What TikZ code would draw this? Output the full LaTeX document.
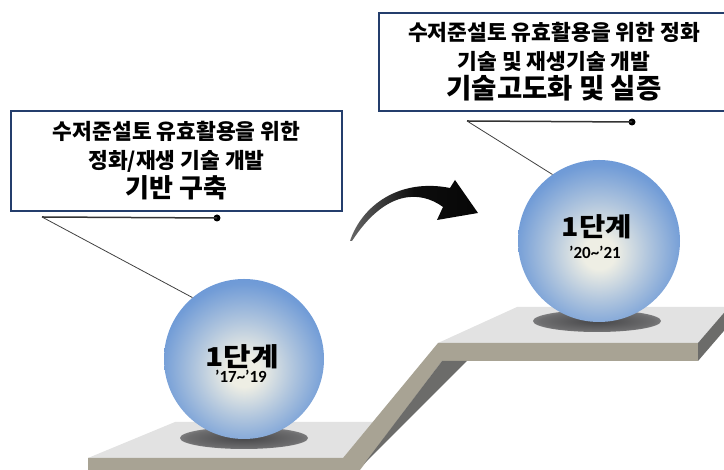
\documentclass[tikz,border=0pt]{standalone}
\usepackage{fontspec}
\setmainfont{Noto Sans CJK KR}
\newfontfamily\yearfont{Carlito}
\usetikzlibrary{positioning}

\definecolor{boxnavy}{RGB}{36,62,108}
\definecolor{ballblue}{RGB}{86,138,212}
\definecolor{ballhi}{RGB}{238,238,228}
\definecolor{stepTop}{RGB}{226,226,226}
\definecolor{stepFront}{RGB}{168,163,148}
\definecolor{stepDark}{RGB}{108,108,106}
\definecolor{shadowgray}{RGB}{70,70,72}

\pgfdeclareradialshading{ballshade}{\pgfpoint{0bp}{-4bp}}{%
  color(0bp)=(ballhi); color(5bp)=(ballhi);
  color(15bp)=(ballblue!40!ballhi); color(26bp)=(ballblue!82!ballhi);
  color(38bp)=(ballblue); color(50bp)=(ballblue!92!black); color(70bp)=(ballblue!92!black)}
\pgfdeclareradialshading{ballshadow}{\pgfpoint{0bp}{0bp}}{%
  color(0bp)=(shadowgray); color(22bp)=(shadowgray!75!stepTop);
  color(50bp)=(stepTop); color(70bp)=(stepTop)}
\pgfdeclarehorizontalshading{arrowfade}{100bp}{%
  color(0bp)=(black!15); color(25bp)=(black!60);
  color(50bp)=(black!95); color(100bp)=(black)}

\tikzstyle{stagebox}   = [rectangle, draw=boxnavy, line width=2.6pt, fill=white,
    align=center, font=\bfseries\fontsize{21.5}{29}\selectfont, inner sep=0pt]
\tikzstyle{ball}       = [circle, shading=ballshade, inner sep=0pt, minimum size=160pt]
\tikzstyle{dot}        = [circle, fill=black, inner sep=0pt, minimum size=7pt]
\tikzstyle{callout}    = [draw=black!80, line width=1.5pt]
\tikzstyle{leader}     = [draw=black!75, line width=0.8pt]
\tikzstyle{stagelabel} = [font=\bfseries\fontsize{26}{30}\selectfont, inner sep=0pt]
\tikzstyle{yearlabel}  = [font=\yearfont\bfseries\fontsize{17}{20}\selectfont, inner sep=0pt]

\begin{document}
\begin{tikzpicture}[x=1pt, y=1pt]
    \useasboundingbox (0,0) rectangle (724,470);
    \clip (0,0) rectangle (724,470);

    % Steps
    \fill [stepTop]   (88,12) -- (175,48) -- (373,48) -- (343,12) -- cycle;
    \fill [stepTop]   (438,127) -- (517,163) -- (729,163) -- (698,127) -- cycle;
    \fill [stepFront] (88,0) -- (88,12) -- (343,12) -- (438,127) -- (698,127)
        -- (698,109) -- (442,109) -- (360,0) -- cycle;
    \fill [stepDark]  (442,109) -- (467,109) -- (364,6) -- cycle;
    \fill [stepDark]  (698,127) -- (729,163) -- (729,145) -- (698,109) -- cycle;

    % Shadows under the balls
    \shade [shading=ballshadow] (244,32) ellipse [x radius=64, y radius=11];
    \shade [shading=ballshadow] (597,149) ellipse [x radius=64, y radius=11];

    % Arrow between the stages
    \shade [shading=arrowfade] (350,229) .. controls (362,265) and (400,292) .. (450,282)
        -- (455,290) -- (478,257) -- (437,250) -- (443,263)
        .. controls (420,280) and (385,280) .. (352,229) -- cycle;

    % Place nodes
    \node [ball]                     (stageBall0) at (244,111) {};
    \node [ball, minimum size=162pt] (stageBall1) at (599,229) {};
    \node [stagelabel] (ballTitle0) at (242,113) {\scalebox{1.15}[1]{1단계}};
    \node [yearlabel]  (ballYear0)  at (241,94)  {’17\textasciitilde’19};
    \node [stagelabel] (ballTitle1) at (597,243) {\scalebox{1.1}[1]{1단계}};
    \node [yearlabel]  (ballYear1)  at (595,218) {’20\textasciitilde’21};

    \node [stagebox, minimum width=331pt, minimum height=100pt] (stageBox0) at (176.5,309)
        {수저준설토 유효활용을 위한\\
         정화/재생 기술 개발\\
         \fontsize{26}{31}\selectfont 기반 구축};
    \node [stagebox, minimum width=350pt, minimum height=98pt] (stageBox1) at (554,408)
        {수저준설토 유효활용을 위한 정화\\
         기술 및 재생기술 개발\\
         \fontsize{27.5}{31}\selectfont 기술고도화 및 실증};

    % Callouts
    \node [dot] (dot0) at (217,252) {};
    \node [dot] (dot1) at (632,348) {};
    \coordinate (bend0) at (42,253);
    \coordinate (bend1) at (467,349);
    \path [callout] (dot0.center) -- (bend0);
    \path [leader]  (bend0) -- (stageBall0.130);
    \path [callout] (dot1.center) -- (bend1);
    \path [leader]  (bend1) -- (stageBall1.125);
\end{tikzpicture}
\end{document}
